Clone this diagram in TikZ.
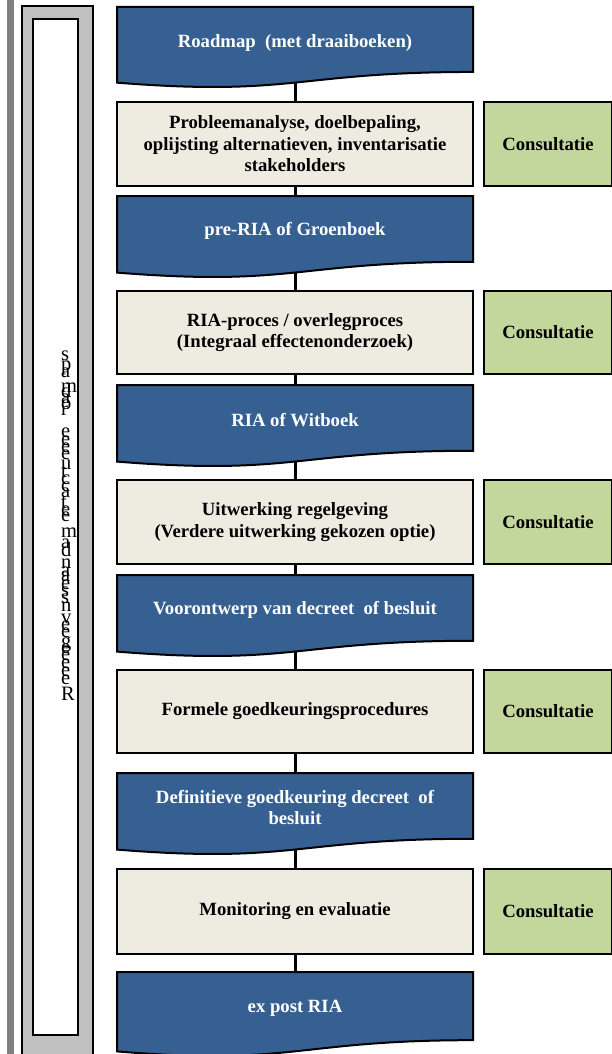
\documentclass[tikz,border=0pt]{standalone}
\usepackage{fontspec}
\setmainfont{Liberation Serif}
\definecolor{docblue}{RGB}{55,96,146}
\definecolor{beige}{RGB}{238,236,225}
\definecolor{consgreen}{RGB}{195,214,155}
\definecolor{bargray}{RGB}{128,128,128}
\definecolor{boxgray}{RGB}{192,192,192}
\pgfdeclarelayer{background}
\pgfsetlayers{background,main}
\newcommand\mydocshape[2]{%
  \path[docshape] (117,#1) -- (473,#1) -- (473,{#1+0.802*#2})
    .. controls (295,{#1+0.802*#2}) and (295,{#1+1.108*#2}) .. (117,{#1+0.934*#2}) -- cycle;}
\begin{document}
\begin{tikzpicture}[x=1pt,y=-1pt,
  txt/.style={font=\fontsize{18.7}{21.5}\selectfont\bfseries, align=center},
  bluetxt/.style={txt, text=white, inner sep=0pt},
  stepbox/.style={txt, draw=black, line width=2pt, fill=beige, minimum width=356pt, anchor=north, inner sep=0pt},
  consbox/.style={txt, draw=black, line width=2pt, fill=consgreen, minimum width=128pt, anchor=north west, inner sep=0pt},
  docshape/.style={draw=black, line width=2pt, fill=docblue},
  conn/.style={draw=black, line width=3pt},
  letter/.style={font=\fontsize{20.5}{20.5}\selectfont, anchor=base west, inner sep=0pt}]
\useasboundingbox (0,0) rectangle (612,1054);
\clip (0,0) rectangle (612,1054);

% left bar
\fill[bargray] (7,0) rectangle (14,1054);
\draw[fill=boxgray, line width=2pt] (22,6) rectangle (93,1070);
\draw[fill=white, line width=2pt] (33,19) rectangle (78,1035);
\foreach \yy/\ch [count=\i] in {360/s,370/p,377/a,392/m,397/d,403/a,409/o,415/r,437/e,445/e,452/e,459/e,469/u,477/t,484/c,491/c,497/a,508/t,515/e,521/e,537/m,548/a,556/d,568/n,576/a,581/a,589/e,596/s,603/s,611/n,623/v,630/e,637/e,647/g,653/e,660/e,668/e,676/e,684/e,700/R}
  \node[letter] (L\i) at (61,\yy) {\ch};

% blue text nodes
\node[bluetxt] (b1) at (295,{7+0.45*81}) {Roadmap\ \ (met draaiboeken)};
\node[bluetxt] (b2) at (295,{196+0.43*82}) {pre-RIA of Groenboek};
\node[bluetxt] (b3) at (295,{385+0.43*82}) {RIA of Witboek};
\node[bluetxt] (b4) at (295,{575+0.43*82}) {Voorontwerp van decreet\ \ of besluit};
\node[bluetxt] (b5) at (295,{773+0.42*82}) {Definitieve goedkeuring decreet\ \ of\\besluit};
\node[bluetxt] (b6) at (295,{972+0.43*85}) {ex post RIA};

% process boxes
\node[stepbox, minimum height=84pt] (p1) at (295,101) {Probleemanalyse, doelbepaling,\\oplijsting alternatieven, inventarisatie\\stakeholders};
\node[stepbox, minimum height=83pt] (p2) at (295,290) {RIA-proces / overlegproces\\(Integraal effectenonderzoek)};
\node[stepbox, minimum height=84pt] (p3) at (295,479) {Uitwerking regelgeving\\(Verdere uitwerking gekozen optie)};
\node[stepbox, minimum height=83pt] (p4) at (295,669) {Formele goedkeuringsprocedures};
\node[stepbox, minimum height=85pt] (p5) at (295,868) {Monitoring en evaluatie};

% consultation boxes
\node[consbox, minimum height=84pt] (c1) at (483,101) {Consultatie};
\node[consbox, minimum height=83pt] (c2) at (483,290) {Consultatie};
\node[consbox, minimum height=84pt] (c3) at (483,479) {Consultatie};
\node[consbox, minimum height=83pt] (c4) at (483,669) {Consultatie};
\node[consbox, minimum height=85pt] (c5) at (483,868) {Consultatie};

\begin{pgfonlayer}{background}
  \draw[conn] (b1.center) -- (p1.center);
  \draw[conn] (p1.center) -- (b2.center);
  \draw[conn] (b2.center) -- (p2.center);
  \draw[conn] (p2.center) -- (b3.center);
  \draw[conn] (b3.center) -- (p3.center);
  \draw[conn] (p3.center) -- (b4.center);
  \draw[conn] (b4.center) -- (p4.center);
  \draw[conn] (p4.center) -- (b5.center);
  \draw[conn] (b5.center) -- (p5.center);
  \draw[conn] (p5.center) -- (b6.center);
  \mydocshape{7}{81}
  \mydocshape{196}{82}
  \mydocshape{385}{82}
  \mydocshape{575}{82}
  \mydocshape{773}{82}
  \mydocshape{972}{85}
\end{pgfonlayer}
\end{tikzpicture}
\end{document}
